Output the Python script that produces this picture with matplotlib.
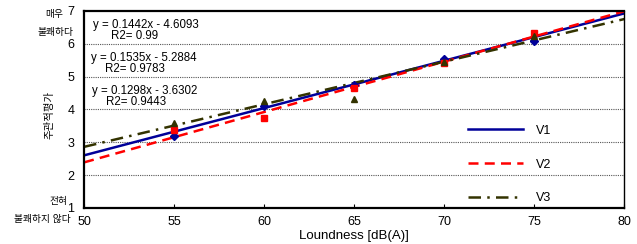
import matplotlib
matplotlib.use("Agg")
import matplotlib.pyplot as plt
import numpy as np

plt.rcParams['font.family'] = ['Liberation Sans', 'Noto Sans CJK KR']

# Dados
loudness = [55, 60, 65, 70, 75]
v1 = [3.2, 4.1, 4.75, 5.55, 6.1]
v2 = [3.38, 3.73, 4.64, 5.4, 6.33]
v3 = [3.58, 4.27, 4.33, 5.45, 6.24]

# Coeficientes das retas de regressão (inclinação, intercepto)
fit_v1 = (0.1442, -4.6093)
fit_v2 = (0.1535, -5.2884)
fit_v3 = (0.1298, -3.6302)
eq_labels = ["y = 0.1442x - 4.6093", "y = 0.1535x - 5.2884", "y = 0.1298x - 3.6302"]
r2_labels = ["R2= 0.99", "R2= 0.9783", "R2= 0.9443"]

fig = plt.figure(figsize=(6.37, 2.44), dpi=100)
ax = fig.add_axes([0.132, 0.148, 0.848, 0.807])

xs = np.array([50, 80])
ax.plot(xs, fit_v1[0] * xs + fit_v1[1], color='#000099', lw=1.8, label='V1')
ax.plot(xs, fit_v2[0] * xs + fit_v2[1], color='#ff0000', lw=1.8, ls=(0, (4, 2.5)), label='V2')
ax.plot(xs, fit_v3[0] * xs + fit_v3[1], color='#333300', lw=1.8, ls=(0, (5, 2.5, 1, 2.5)), label='V3')

ax.plot(loudness, v1, 'D', color='#000099', ms=4, ls='none')
ax.plot(loudness, v2, 's', color='#ff0000', ms=4, ls='none')
ax.plot(loudness, v3, '^', color='#333300', ms=4.5, ls='none')

ax.set_xlim(50, 80)
ax.set_ylim(1, 7)
ax.set_xticks(range(50, 81, 5))
ax.set_yticks(range(1, 8))
ax.tick_params(axis='x', direction='in', length=3, labelsize=9, pad=6)
ax.tick_params(axis='y', length=0, labelsize=9, pad=7)
for y in range(2, 7):
    ax.axhline(y, color='#555555', lw=0.8, ls=(0, (1, 1)), zorder=0)

for s in ['left', 'bottom', 'top']:
    ax.spines[s].set_linewidth(1.6)
ax.spines['right'].set_linewidth(1.0)

# Equações
eq_x = [50.5, 50.4, 50.45]
r2_x = [51.5, 51.15, 51.2]
for i, (eq, r2) in enumerate(zip(eq_labels, r2_labels)):
    y0 = 6.57 - i
    ax.text(eq_x[i], y0, eq, fontsize=8.3, va='center')
    ax.text(r2_x[i], y0 - 0.34, r2, fontsize=8.3, va='center')

# Legenda
handles, labels = ax.get_legend_handles_labels()
ax.legend(handles, labels, loc='center left', bbox_to_anchor=(0.69, 0.22), frameon=False,
          fontsize=9, handlelength=4.4, labelspacing=1.75, handletextpad=1.0)

ax.set_xlabel("Loundness [dB(A)]", fontsize=9.5, labelpad=1)

fig.text(49 / 637, 1 - 115 / 244, "주관적평가", rotation=90, fontsize=7.5, ha='center', va='center')
fig.text(63 / 637, 1 - 14 / 244, "매우", fontsize=7, ha='right', va='center')
fig.text(73 / 637, 1 - 32 / 244, "불쾌하다", fontsize=7, ha='right', va='center')
fig.text(68 / 637, 1 - 201 / 244, "전혀", fontsize=7, ha='right', va='center')
fig.text(71 / 637, 1 - 219 / 244, "불쾌하지 않다", fontsize=7, ha='right', va='center')

fig.savefig("out.png", dpi=100)
